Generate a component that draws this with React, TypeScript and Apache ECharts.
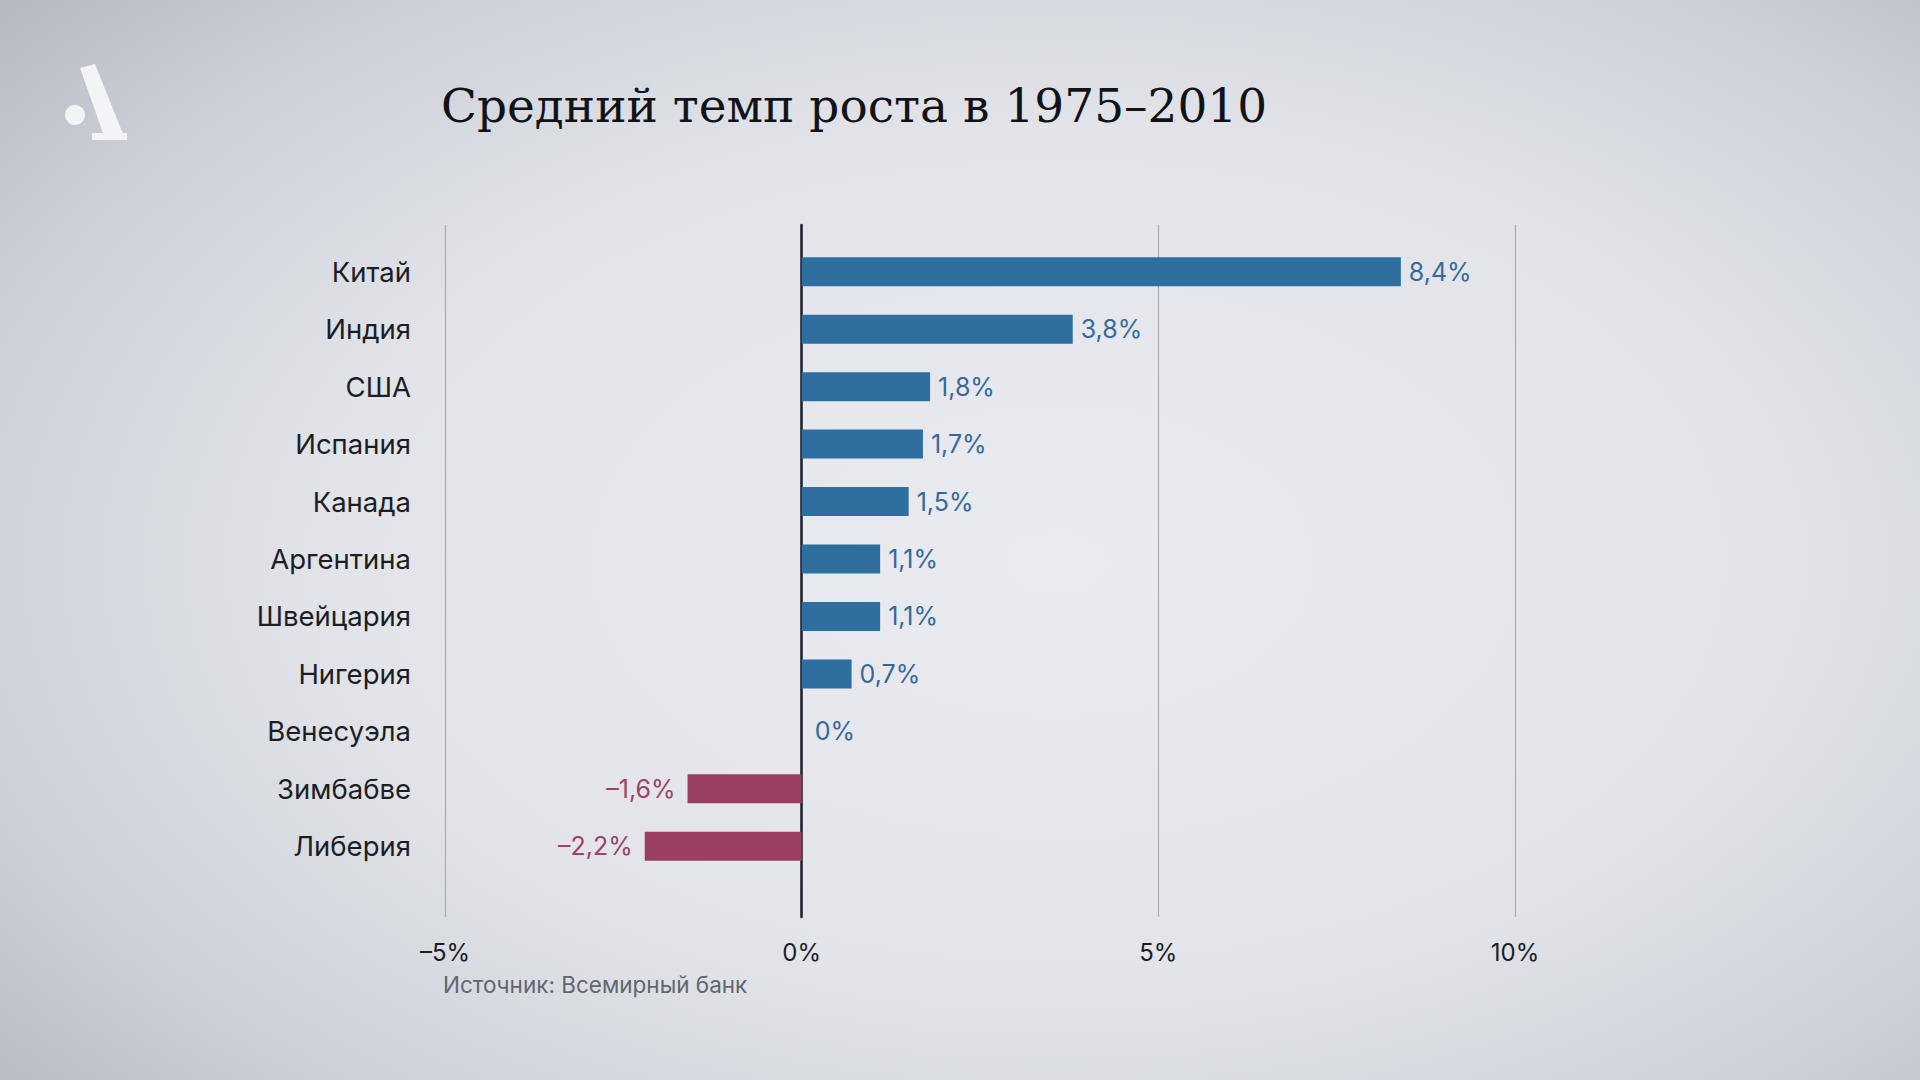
import React, { useEffect, useRef } from "react";
import * as echarts from "echarts";

const categories = [
  "Китай",
  "Индия",
  "США",
  "Испания",
  "Канада",
  "Аргентина",
  "Швейцария",
  "Нигерия",
  "Венесуэла",
  "Зимбабве",
  "Либерия",
];
const growth = [8.4, 3.8, 1.8, 1.7, 1.5, 1.1, 1.1, 0.7, 0, -1.6, -2.2];
const xTicks = [-5, 0, 5, 10];
const titleText = "Средний темп роста в 1975–2010";
const sourceText = "Источник: Всемирный банк";

const BLUE = "#2f6fa0";
const RED = "#9a3f62";
const SANS = "Inter, 'Noto Sans', sans-serif";

const fmt = (v: number) => {
  const s = Math.abs(v).toString().replace(".", ",");
  return (v < 0 ? "–" : "") + s + "%";
};

export default function App() {
  const ref = useRef<HTMLDivElement>(null);
  useEffect(() => {
    const el = ref.current!;
    const chart = echarts.init(el, null, { renderer: "svg" });
    const L = 445;
    const R = 1920 - 1515;
    chart.setOption({
      animation: false,
      backgroundColor: "transparent",
      grid: [
        { left: L, right: R, top: 225, bottom: 1080 - 917 },
        { left: L, right: R, top: 243, height: 632 },
      ],
      xAxis: [
        {
          gridIndex: 0,
          type: "value",
          min: xTicks[0],
          max: xTicks[xTicks.length - 1],
          interval: 5,
          axisLine: { show: false, onZero: false },
          axisTick: { show: false },
          splitLine: { show: true, lineStyle: { color: "#a7abb4", width: 1.2 } },
          axisLabel: {
            formatter: (v: number) => fmt(v),
            color: "#1c1e24",
            fontFamily: SANS,
            fontSize: 24,
            margin: 23,
          },
        },
        {
          gridIndex: 1,
          type: "value",
          min: xTicks[0],
          max: xTicks[xTicks.length - 1],
          show: false,
        },
      ],
      yAxis: [
        {
          gridIndex: 0,
          type: "value",
          min: 0,
          max: 1,
          axisLabel: { show: false },
          axisTick: { show: false },
          splitLine: { show: false },
          axisLine: { show: true, onZero: true, lineStyle: { color: "#1b1e2a", width: 2.5 } },
        },
        {
          gridIndex: 1,
          type: "category",
          inverse: true,
          data: categories,
          axisLine: { show: false },
          axisTick: { show: false },
          splitLine: { show: false },
          axisLabel: {
            color: "#1c1e24",
            fontFamily: SANS,
            fontSize: 27.5,
            margin: 34,
          },
        },
      ],
      series: [
        {
          type: "bar",
          xAxisIndex: 1,
          yAxisIndex: 1,
          barWidth: 29,
          data: growth.map((v) => ({
            value: v,
            itemStyle: { color: v < 0 ? RED : BLUE },
            label: {
              show: true,
              position: v < 0 ? "left" : "right",
              distance: v < 0 ? 12 : v === 0 ? 13 : 8,
              color: v < 0 ? "#9c4467" : "#36699a",
              fontFamily: SANS,
              fontSize: 25,
              formatter: () => fmt(v),
            },
          })),
        },
      ],
      graphic: [
        {
          type: "text",
          left: 441,
          top: 82,
          style: {
            text: titleText,
            fill: "#121317",
            font: "47px 'DejaVu Serif', serif",
          },
        },
        {
          type: "text",
          left: 443,
          top: 973,
          style: {
            text: sourceText,
            fill: "#62666f",
            font: "22.5px Inter, 'Noto Sans', sans-serif",
          },
        },
        {
          type: "circle",
          shape: { cx: 75, cy: 115, r: 10 },
          style: { fill: "#f3f4f6" },
        },
        {
          type: "polygon",
          shape: {
            points: [
              [80, 68],
              [95, 64],
              [123, 134],
              [104, 136],
            ],
          },
          style: { fill: "#f3f4f6" },
        },
        {
          type: "rect",
          shape: { x: 92, y: 133, width: 35, height: 7 },
          style: { fill: "#f3f4f6" },
        },
      ],
    });
    return () => chart.dispose();
  }, []);
  return (
    <div
      style={{
        position: "absolute",
        left: 0,
        top: 0,
        width: 1920,
        height: 1080,
        background:
          "radial-gradient(ellipse 75% 80% at 55% 52%, #e9ebf0 0%, #e2e4ea 50%, #cdd0d7 78%, #b2b6bf 100%)",
      }}
    >
      <div ref={ref} style={{ width: 1920, height: 1080 }} />
    </div>
  );
}
